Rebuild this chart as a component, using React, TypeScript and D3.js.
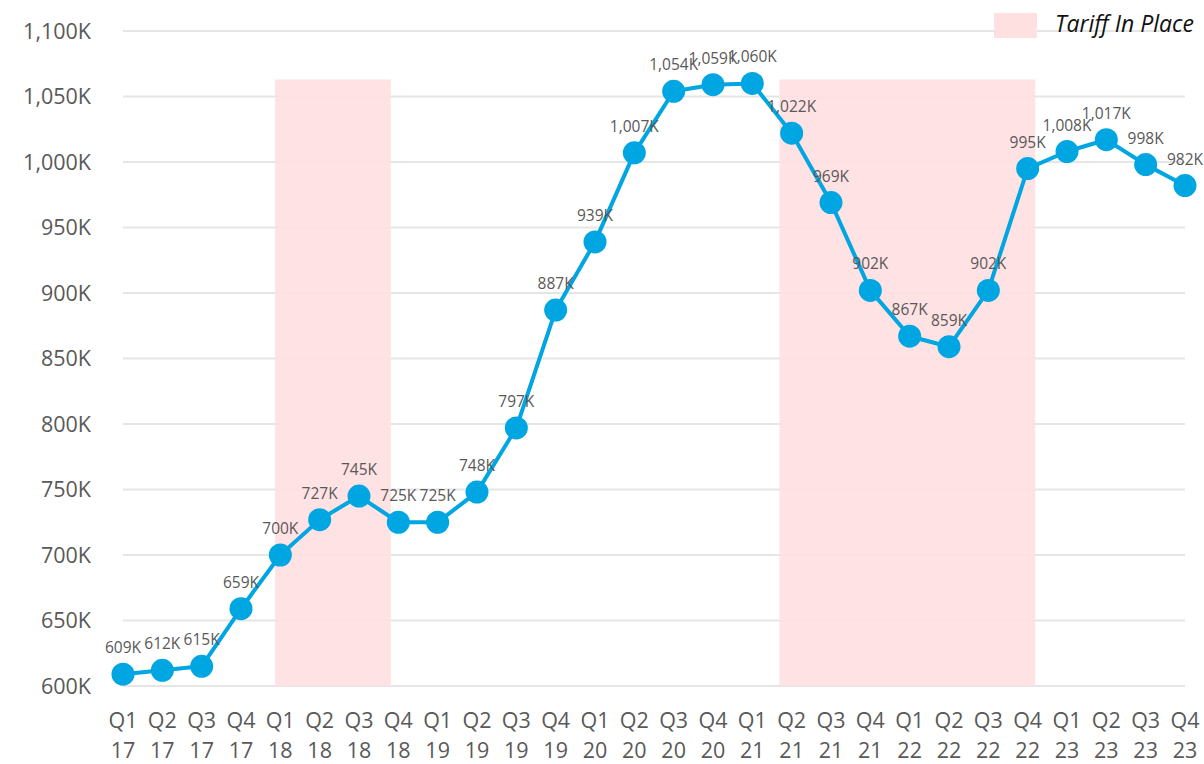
import React from 'react';
import * as d3 from 'd3';

const quarters = [
  'Q1 17', 'Q2 17', 'Q3 17', 'Q4 17',
  'Q1 18', 'Q2 18', 'Q3 18', 'Q4 18',
  'Q1 19', 'Q2 19', 'Q3 19', 'Q4 19',
  'Q1 20', 'Q2 20', 'Q3 20', 'Q4 20',
  'Q1 21', 'Q2 21', 'Q3 21', 'Q4 21',
  'Q1 22', 'Q2 22', 'Q3 22', 'Q4 22',
  'Q1 23', 'Q2 23', 'Q3 23', 'Q4 23',
];

// thousands
const values = [
  609, 612, 615, 659,
  700, 727, 745, 725,
  725, 748, 797, 887,
  939, 1007, 1054, 1059,
  1060, 1022, 969, 902,
  867, 859, 902, 995,
  1008, 1017, 998, 982,
];

const yTicks = [600, 650, 700, 750, 800, 850, 900, 950, 1000, 1050, 1100];

// tariff periods in quarter-index units (fractional, from the time axis)
const tariffStart = [3.865, 16.69];
const tariffEnd = [6.81, 23.19];
const tariffTop = 1063;

const W = 1204;
const H = 764;
const FONT = "'Open Sans', 'DejaVu Sans', sans-serif";
const GREY = '#595959';
const BLUE = '#00A6E2';
const PINK = '#FFE0E1';

const x = d3.scaleLinear().domain([0, quarters.length - 1]).range([123, 1185]);
const y = d3.scaleLinear().domain([600, 1100]).range([686, 31]);

const fmt = (v: number) => d3.format(',')(v) + 'K';

const line = d3.line<number>()
  .x((_, i) => x(i))
  .y(d => y(d));

export default function App() {
  return (
    <div style={{ position: 'absolute', left: 0, top: 0 }}>
      <svg width={W} height={H} style={{ display: 'block', background: '#fff' }} fontFamily={FONT}>
        {/* grid */}
        {yTicks.map(t => (
          <line key={t} x1={x(0)} x2={x(quarters.length - 1)} y1={y(t)} y2={y(t)}
            stroke="#E5E5E5" strokeWidth={2} />
        ))}

        {/* tariff shading */}
        {tariffStart.map((s, i) => (
          <rect key={i} x={x(s)} width={x(tariffEnd[i]) - x(s)}
            y={y(tariffTop)} height={y(600) - y(tariffTop)} fill={PINK} opacity={0.92} />
        ))}

        {/* y tick labels */}
        {yTicks.map(t => (
          <text key={t} x={91} y={y(t)} dy="0.36em" textAnchor="end" fontSize={21.5} fill={GREY}>
            {fmt(t)}
          </text>
        ))}

        {/* x labels */}
        {quarters.map((q, i) => {
          const [a, b] = q.split(' ');
          return (
            <text key={q} x={x(i)} textAnchor="middle" fontSize={21.5} fill={GREY}>
              <tspan x={x(i)} y={728}>{a}</tspan>
              <tspan x={x(i)} y={758}>{b}</tspan>
            </text>
          );
        })}

        {/* series */}
        <path d={line(values) || ''} fill="none" stroke={BLUE} strokeWidth={4} strokeLinejoin="round" />
        {values.map((v, i) => (
          <circle key={i} cx={x(i)} cy={y(v)} r={11.5} fill={BLUE} />
        ))}
        {values.map((v, i) => (
          <text key={i} x={x(i)} y={y(v) - 21} textAnchor="middle" fontSize={15.5} fill={GREY}>
            {fmt(v)}
          </text>
        ))}

        {/* legend */}
        <rect x={994} y={13} width={43} height={25} fill={PINK} />
        <text x={1055} y={32} fontSize={23} fontStyle="italic" fill="#111">Tariff In Place</text>
      </svg>
    </div>
  );
}
